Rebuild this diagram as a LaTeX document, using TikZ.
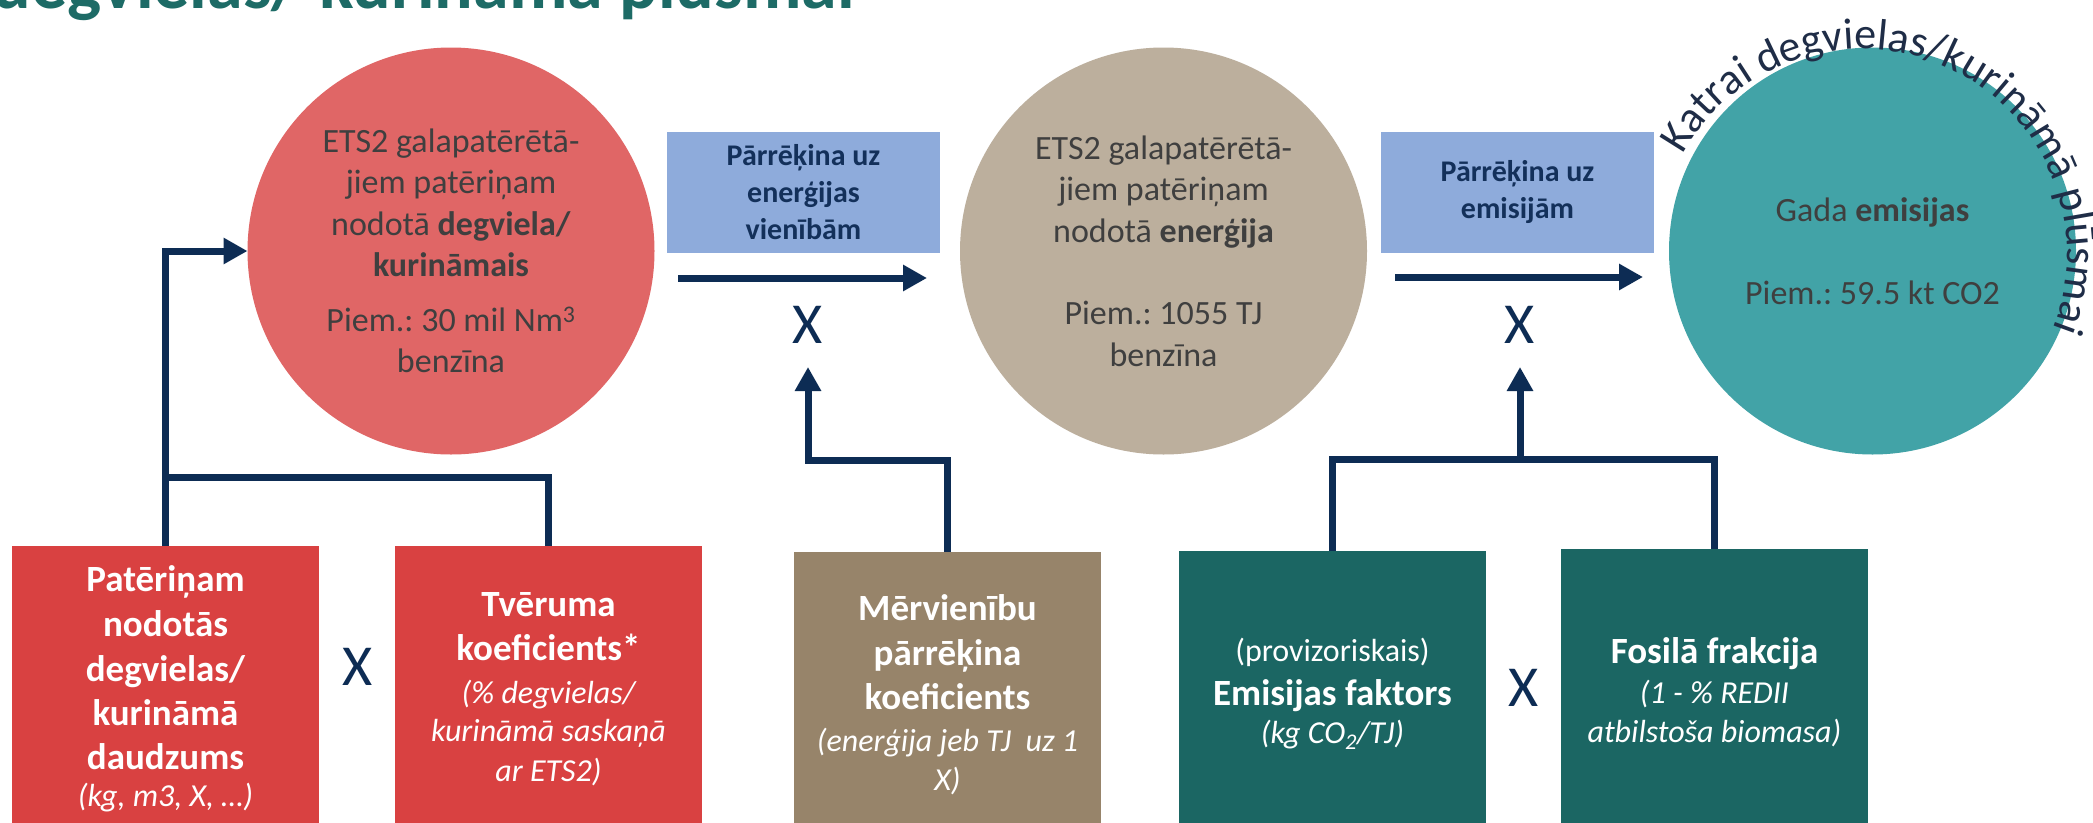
\documentclass[tikz,border=0pt]{standalone}
\usepackage{fontspec}
\setmainfont{Carlito}
\usetikzlibrary{arrows.meta,decorations.text}
\definecolor{redc}{HTML}{E06666}
\definecolor{tanc}{HTML}{BCAF9D}
\definecolor{tealc}{HTML}{42A3A7}
\definecolor{circtext}{HTML}{3F3F3F}
\definecolor{bluebox}{HTML}{8EABDB}
\definecolor{navytext}{HTML}{13305A}
\definecolor{arrownavy}{HTML}{0D2C54}
\definecolor{redbox}{HTML}{D94141}
\definecolor{tanbox}{HTML}{97846A}
\definecolor{tealbox}{HTML}{1B6663}
\definecolor{titlec}{HTML}{1D6B66}
\definecolor{curvtext}{HTML}{1F2D47}
\newcommand{\boxit}[1]{{\fontsize{32}{39}\selectfont\mdseries\itshape #1}}
\newcommand{\boxrm}[1]{{\fontsize{32}{39}\selectfont\mdseries #1}}
\newcommand{\curvfont}{\fontsize{44}{50}\selectfont}
\frenchspacing
\begin{document}
\begin{tikzpicture}[x=1pt,y=1pt,
  circ/.style={circle, minimum size=407pt, inner sep=0pt, outer sep=0pt, align=center, text=circtext, font=\fontsize{34}{41.5}\selectfont},
  bbox/.style={rectangle, fill=bluebox, minimum width=273pt, minimum height=121pt, inner sep=0pt, outer sep=0pt, align=center, text=navytext, font=\fontsize{30}{37}\selectfont\bfseries},
  fbox/.style={rectangle, minimum width=307pt, minimum height=286pt, inner sep=0pt, outer sep=0pt, align=center, text=white, font=\fontsize{37}{44.5}\selectfont\bfseries},
  xsym/.style={inner sep=0pt, text=arrownavy, font=\fontsize{58}{60}\selectfont},
  conn/.style={draw=arrownavy, line width=7pt},
  arr/.style={-{Triangle[length=24pt,width=25pt]}},
]
\useasboundingbox[fill=white] (0,0) rectangle (2093,-822);

% title (cut off at the top)
\node[inner sep=0pt, anchor=base east, text=titlec, font=\fontsize{72}{80}\selectfont\bfseries] (title) at (855,-8) {degvielas/ kurināmā plūsmai};

% circles
\node[circ, fill=redc] (c1) at (451,-251) {ETS2 galapatērētā-\\jiem patēriņam\\nodotā \textbf{degviela/}\\\textbf{kurināmais}\\[13pt]Piem.: 30 mil Nm\textsuperscript{3}\\benzīna};
\node[circ, fill=tanc] (c2) at (1163.5,-251) {ETS2 galapatērētā-\\jiem patēriņam\\nodotā \textbf{enerģija}\\[41pt]Piem.: 1055 TJ\\benzīna};
\node[circ, fill=tealc] (c3) at (1872.5,-251) {Gada \textbf{emisijas}\\[41pt]Piem.: 59.5 kt CO2};

% curved label round the teal circle
\coordinate (arcc) at (1862,-254);
\path[decorate, decoration={text along path, text={|\curvfont|Katrai degvielas/kurināmā plūsmai}, text align=left, text color=curvtext}]
  (arcc) ++(151:205) arc[start angle=151, end angle=-40, radius=205];

% blue boxes
\node[bbox] (b1) at (803.5,-192.5) {Pārrēķina uz\\enerģijas\\vienībām};
\node[bbox] (b2) at (1517.5,-192.5) {Pārrēķina uz\\emisijām};

% horizontal arrows
\coordinate (a1s) at (678,-278);
\coordinate (a1e) at (927,-278);
\coordinate (a2s) at (1395,-277);
\coordinate (a2e) at (1643,-277);
\draw[conn, arr] (a1s) -- (a1e);
\draw[conn, arr] (a2s) -- (a2e);

% multiplication signs
\node[xsym] (x1) at (808,-325) {X};
\node[xsym] (x2) at (1520,-325) {X};
\node[xsym] (x3) at (358,-667) {X};
\node[xsym] (x4) at (1524,-688) {X};

% bottom boxes
\node[fbox, fill=redbox] (r1) at (165.5,-689) {Patēriņam\\nodotās\\degvielas/\\kurināmā\\daudzums\\[-8pt]\boxit{(kg, m3, X, …)}};
\node[fbox, fill=redbox] (r2) at (548.5,-689) {Tvēruma\\koeficients*\\[-2pt]\boxit{(\% degvielas/}\\[-6pt]\boxit{kurināmā saskaņā}\\[-5pt]\boxit{ar ETS2)}};
\node[fbox, fill=tanbox] (t1) at (947.5,-695) {Mērvienību\\pārrēķina\\koeficients\\[-3pt]\boxit{(enerģija jeb TJ\ \ uz 1}\\[-5pt]\boxit{X)}};
\node[fbox, fill=tealbox] (g1) at (1332.5,-694) {\boxrm{(provizoriskais)}\\[-1pt]Emisijas faktors\\[-6pt]\boxit{(kg CO\textsubscript{2}/TJ)}};
\node[fbox, fill=tealbox] (g2) at (1714.5,-692) {Fosilā frakcija\\[-4pt]\boxit{(1 - \% REDII}\\[-6pt]\boxit{atbilstoša biomasa)}};

% connectors
\coordinate (j1) at (165.5,-477);
\coordinate (m1) at (808,-460);
\coordinate (m2) at (808,-367);
\coordinate (k1) at (1520,-459);
\coordinate (k2) at (1520,-367);
\draw[conn, arr] (r1.north) |- (c1.west);
\draw[conn] (j1) -| (r2.north);
\draw[conn, arr] (t1.north) |- (m1) -- (m2);
\draw[conn] (g1.north) |- (k1) -| (g2.north);
\draw[conn, arr] (k1) -- (k2);
\end{tikzpicture}
\end{document}
